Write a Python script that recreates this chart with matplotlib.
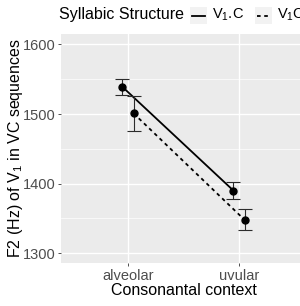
import matplotlib
matplotlib.use('Agg')
import matplotlib.pyplot as plt
from matplotlib.lines import Line2D
from matplotlib.patches import Rectangle

plt.rcParams['font.family'] = ['Liberation Sans', 'DejaVu Sans']
plt.rcParams['mathtext.fontset'] = 'custom'
plt.rcParams['mathtext.rm'] = 'Liberation Sans'
plt.rcParams['mathtext.it'] = 'Liberation Sans'

# data
contexts = ['alveolar', 'uvular']
structures = ['V$_1$.C', 'V$_1$C.']
f2_mean = {'V$_1$.C': [1539, 1390], 'V$_1$C.': [1501, 1348]}
f2_lo = {'V$_1$.C': [1528, 1378], 'V$_1$C.': [1476, 1333]}
f2_hi = {'V$_1$.C': [1550, 1402], 'V$_1$C.': [1526, 1364]}
y_ticks = [1300, 1400, 1500, 1600]
y_minor = [1350, 1450, 1550]

styles = {'V$_1$.C': '-', 'V$_1$C.': (0, (2, 2))}
dodge = {'V$_1$.C': -0.05, 'V$_1$C.': 0.05}

W, H = 300, 306
fig = plt.figure(figsize=(W / 100, H / 100), dpi=100)
ax = fig.add_axes([61.4 / W, 1 - 263 / H, 244.2 / W, 229 / H])
ax.set_facecolor('#EBEBEB')
for s in ax.spines.values():
    s.set_visible(False)

xpos = list(range(1, len(contexts) + 1))
for st in structures:
    xs = [x + dodge[st] for x in xpos]
    ax.plot(xs, f2_mean[st], color='black', lw=1.3, linestyle=styles[st], zorder=3)
    yerr = [[m - l for m, l in zip(f2_mean[st], f2_lo[st])],
            [h - m for m, h in zip(f2_mean[st], f2_hi[st])]]
    ax.errorbar(xs, f2_mean[st], yerr=yerr, fmt='none', ecolor='#2b2b2b',
                elinewidth=0.8, capsize=5, capthick=0.8, zorder=3)
    ax.plot(xs, f2_mean[st], 'o', color='black', ms=5, zorder=4)

ax.set_xlim(0.4, 2.6)
ax.set_ylim(1286, 1615)
ax.set_xticks(xpos)
ax.set_xticklabels(contexts)
ax.set_yticks(y_ticks)
ax.set_yticks(y_minor, minor=True)
ax.grid(which='major', color='white', lw=1.0)
ax.grid(which='minor', axis='y', color='white', lw=0.5)
ax.set_axisbelow(True)
ax.tick_params(which='major', length=2.5, width=0.6, color='#333333',
               labelcolor='#4D4D4D', labelsize=10.5, pad=2)
ax.tick_params(which='minor', length=0)

ax.set_xlabel('Consonantal context', fontsize=11.5, labelpad=0)
ax.set_ylabel('F2 (Hz) of V$_1$ in VC sequences', fontsize=11.5)
ax.yaxis.set_label_coords((25 - 61.4) / 244.2, 0.5)

# legend at top
fig.text(59 / W, 1 - 15 / H, 'Syllabic Structure', fontsize=11.5, va='center', ha='left')
key_x = [190, 255]
lab_x = [212, 277]
for st, kx, lx in zip(structures, key_x, lab_x):
    fig.add_artist(Rectangle((kx / W, 1 - 24 / H), 17 / W, 17 / H,
                             transform=fig.transFigure, facecolor='#F2F2F2',
                             edgecolor='none'))
    fig.add_artist(Line2D([(kx + 2) / W, (kx + 15) / W], [1 - 15.5 / H, 1 - 15.5 / H],
                          transform=fig.transFigure, color='black', lw=1.3,
                          linestyle=styles[st]))
    fig.text(lx / W, 1 - 15 / H, st, fontsize=10.5, va='center', ha='left')

fig.savefig('out.png', dpi=100)
